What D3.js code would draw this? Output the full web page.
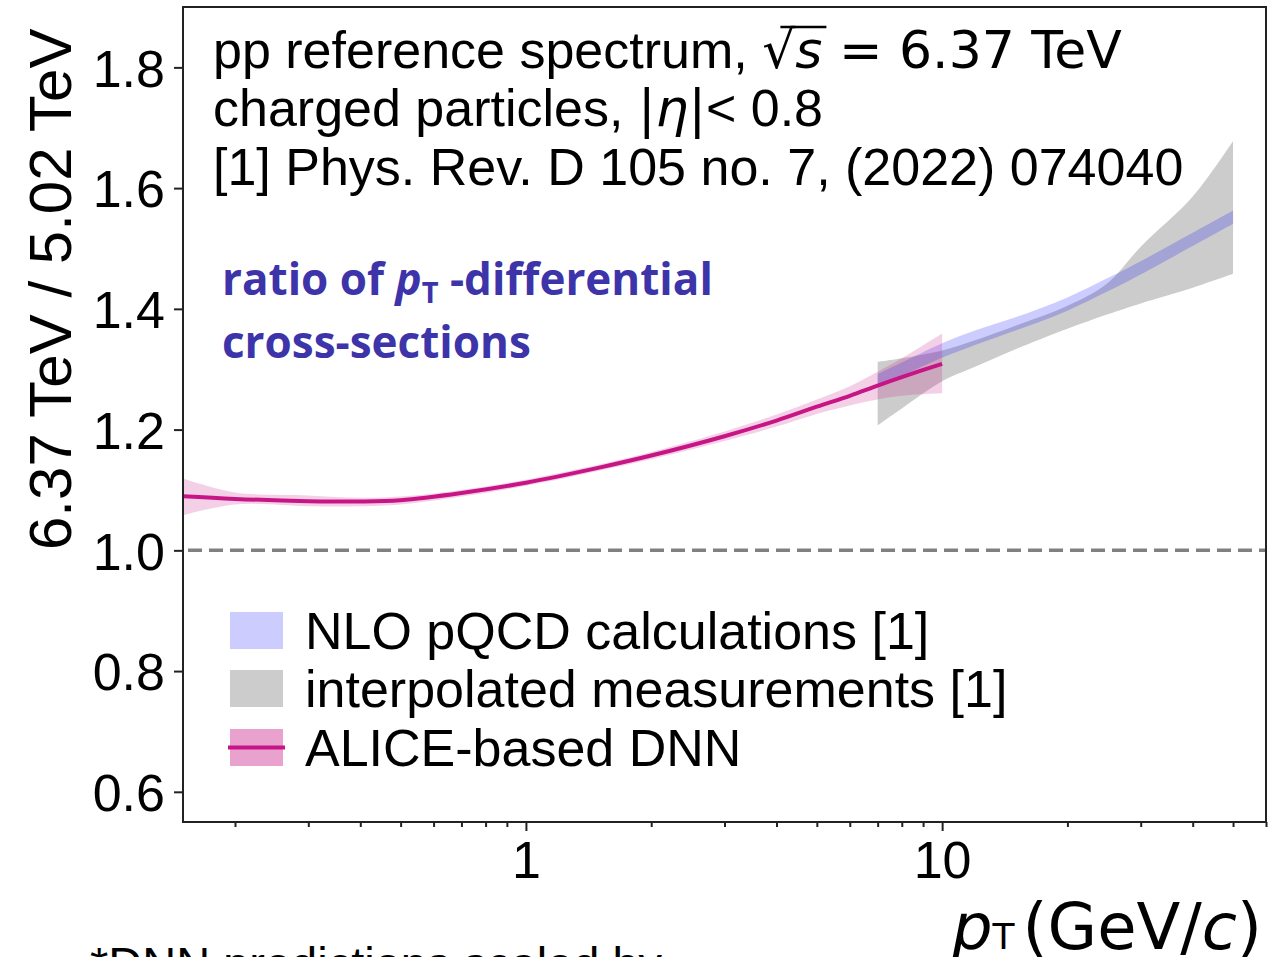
<!DOCTYPE html>
<html>
<head>
<meta charset="utf-8">
<script src="https://cdn.jsdelivr.net/npm/d3@7"></script>
<style>
  html, body { margin: 0; padding: 0; background: #fff; }
  svg { display: block; }
</style>
</head>
<body>
<svg id="chart" width="1281" height="957"></svg>
<script>
// ALICE-based DNN ratio (6.37 TeV / 5.02 TeV) with its uncertainty band
const dnnPt    = [0.15, 0.2, 0.3, 0.4, 0.5, 0.7, 1.0, 1.5, 2, 3, 4, 5, 6, 7, 8, 10];
const dnnRatio = [1.0895, 1.0852, 1.0815, 1.0808, 1.083, 1.095, 1.112, 1.137, 1.157, 1.189, 1.215, 1.238, 1.256, 1.273, 1.287, 1.309];
const dnnLow   = [1.058, 1.076, 1.073, 1.073, 1.076, 1.089, 1.107, 1.132, 1.151, 1.181, 1.205, 1.226, 1.240, 1.250, 1.256, 1.260];
const dnnHigh  = [1.119, 1.096, 1.091, 1.087, 1.089, 1.100, 1.117, 1.142, 1.163, 1.197, 1.225, 1.250, 1.272, 1.296, 1.318, 1.359];

// NLO pQCD calculations [1]
const nloPt   = [7, 8, 10, 12, 15, 20, 25, 30, 40, 50];
const nloLow  = [1.270, 1.289, 1.319, 1.340, 1.364, 1.397, 1.429, 1.457, 1.504, 1.541];
const nloHigh = [1.292, 1.311, 1.343, 1.364, 1.386, 1.419, 1.451, 1.479, 1.526, 1.563];

// interpolated measurements [1]
const measPt   = [7, 8, 10, 12, 15, 20, 25, 30, 40, 50];
const measLow  = [1.207, 1.235, 1.280, 1.304, 1.333, 1.367, 1.391, 1.409, 1.435, 1.458];
const measHigh = [1.312, 1.318, 1.331, 1.348, 1.372, 1.405, 1.443, 1.503, 1.586, 1.678];

// axes
const yTicks = [0.6, 0.8, 1.0, 1.2, 1.4, 1.6, 1.8];
const xMajorTicks = [1, 10];
const xMinorTicks = [0.2, 0.3, 0.4, 0.5, 0.6, 0.7, 0.8, 0.9, 2, 3, 4, 5, 6, 7, 8, 9, 20, 30, 40, 50, 60];

const legendLabels = ["NLO pQCD calculations [1]", "interpolated measurements [1]", "ALICE-based DNN"];

const svg = d3.select("#chart");
const pLeft = 183, pRight = 1266, pTop = 7, pBottom = 822;

const x = d3.scaleLog().domain([0.15, 60]).range([pLeft, pRight]);
const y = d3.scaleLinear().domain([0.55, 1.9]).range([pBottom, pTop]);

const SANS = "'Liberation Sans', Arial, sans-serif";
const MATH = "'DejaVu Sans', sans-serif";
const smooth = d3.curveCatmullRom.alpha(0.5);

svg.append("defs").append("clipPath").attr("id", "plot-clip")
  .append("rect").attr("x", pLeft).attr("y", pTop).attr("width", pRight - pLeft).attr("height", pBottom - pTop);

const plot = svg.append("g").attr("clip-path", "url(#plot-clip)");

// reference line at unity
plot.append("line")
  .attr("x1", pLeft).attr("x2", pRight)
  .attr("y1", y(1)).attr("y2", y(1))
  .attr("stroke", "#808080").attr("stroke-width", 3.5)
  .attr("stroke-dasharray", "14,7").attr("stroke-dashoffset", -5);

const band = (pts, lo, hi) => d3.area()
  .x((d, i) => x(pts[i]))
  .y0((d, i) => y(lo[i]))
  .y1((d, i) => y(hi[i]))
  .curve(smooth)(pts);

plot.append("path").attr("d", band(measPt, measLow, measHigh))
  .attr("fill", "black").attr("fill-opacity", 0.2);
plot.append("path").attr("d", band(nloPt, nloLow, nloHigh))
  .attr("fill", "blue").attr("fill-opacity", 0.2);
plot.append("path").attr("d", band(dnnPt, dnnLow, dnnHigh))
  .attr("fill", "mediumvioletred").attr("fill-opacity", 0.2);

const line = d3.line()
  .x((d, i) => x(dnnPt[i]))
  .y((d, i) => y(dnnRatio[i]))
  .curve(smooth);
plot.append("path").attr("d", line(dnnPt))
  .attr("fill", "none").attr("stroke", "mediumvioletred").attr("stroke-width", 4);

// y axis
const yAxis = svg.append("g").attr("transform", `translate(${pLeft},0)`)
  .call(d3.axisLeft(y).tickValues(yTicks).tickFormat(d3.format(".1f")).tickSize(9).tickPadding(9));
yAxis.select(".domain").remove();
yAxis.selectAll(".tick line").attr("stroke", "#222").attr("stroke-width", 2);
yAxis.selectAll(".tick text").attr("font-family", SANS).attr("font-size", 52).attr("fill", "#000").attr("dy", "0.36em");

// x axis: minor then major
const xMinor = svg.append("g").attr("transform", `translate(0,${pBottom})`)
  .call(d3.axisBottom(x).tickValues(xMinorTicks).tickFormat("").tickSize(5));
xMinor.select(".domain").remove();
xMinor.selectAll(".tick line").attr("stroke", "#222").attr("stroke-width", 2);

const xAxis = svg.append("g").attr("transform", `translate(0,${pBottom})`)
  .call(d3.axisBottom(x).tickValues(xMajorTicks).tickFormat(d3.format("d")).tickSize(9).tickPadding(10));
xAxis.select(".domain").remove();
xAxis.selectAll(".tick line").attr("stroke", "#222").attr("stroke-width", 2);
xAxis.selectAll(".tick text").attr("font-family", SANS).attr("font-size", 52).attr("fill", "#000").attr("dy", "0.72em");

// frame
svg.append("rect").attr("x", pLeft).attr("y", pTop).attr("width", pRight - pLeft).attr("height", pBottom - pTop)
  .attr("fill", "none").attr("stroke", "#222").attr("stroke-width", 2);

// axis titles
svg.append("text")
  .attr("transform", "translate(71,550) rotate(-90)")
  .attr("font-family", SANS).attr("font-size", 60).attr("fill", "#000")
  .text("6.37 TeV / 5.02 TeV");

const xl = svg.append("text").attr("x", 1262).attr("y", 949).attr("text-anchor", "end")
  .attr("font-family", MATH).attr("font-size", 64).attr("fill", "#000");
xl.append("tspan").attr("font-style", "italic").text("p");
xl.append("tspan").attr("font-size", 36).text("T");
xl.append("tspan").attr("dx", 8).text("(GeV/");
xl.append("tspan").attr("font-style", "italic").text("c");
xl.append("tspan").text(")");

// header text
const h1 = svg.append("text").attr("x", 213).attr("y", 68).attr("font-size", 52).attr("fill", "#000");
h1.append("tspan").attr("font-family", SANS).text("pp reference spectrum, ");
h1.append("tspan").attr("font-family", MATH).text("\u221A");
h1.append("tspan").attr("font-family", MATH).attr("font-style", "italic").text("s");
h1.append("tspan").attr("font-family", MATH).text(" = 6.37 TeV");
{
  const node = h1.node();
  const n = "pp reference spectrum, ".length;
  const x0 = node.getStartPositionOfChar(n).x + node.getExtentOfChar(n).width * 0.55;
  const x1 = node.getEndPositionOfChar(n + 1).x + 4;
  svg.append("line").attr("x1", x0).attr("x2", x1).attr("y1", 27).attr("y2", 27)
    .attr("stroke", "#000").attr("stroke-width", 2.5);
}

const h2 = svg.append("text").attr("x", 213).attr("y", 126).attr("font-size", 52).attr("fill", "#000");
h2.append("tspan").attr("font-family", SANS).text("charged particles, ");
h2.append("tspan").attr("font-family", MATH).text("|");
h2.append("tspan").attr("font-family", MATH).attr("font-style", "italic").text("\u03B7");
h2.append("tspan").attr("font-family", MATH).text("|");
h2.append("tspan").attr("font-family", SANS).text("< 0.8");

svg.append("text").attr("x", 213).attr("y", 185).attr("font-size", 52).attr("fill", "#000")
  .attr("font-family", SANS).text("[1] Phys. Rev. D 105 no. 7, (2022) 074040");

// blue annotation
const BLUE = "#3d34a9";
const b1 = svg.append("text").attr("x", 222).attr("y", 295).attr("font-family", "'Open Sans', sans-serif")
  .attr("font-weight", 700).attr("font-size", 44).attr("fill", BLUE);
b1.append("tspan").text("ratio of ");
b1.append("tspan").attr("font-style", "italic").text("p");
b1.append("tspan").attr("font-size", 29).attr("dy", 8).text("T");
b1.append("tspan").attr("dy", -8).text(" -differential");
svg.append("text").attr("x", 222).attr("y", 358).attr("font-family", "'Open Sans', sans-serif")
  .attr("font-weight", 700).attr("font-size", 44).attr("fill", BLUE).text("cross-sections");

// legend
const legendFill = [["blue", 0.2], ["black", 0.2], ["mediumvioletred", 0.4]];
const legendY = [630.5, 688.5, 747.5];
const lg = svg.append("g");
legendLabels.forEach((lab, i) => {
  lg.append("rect").attr("x", 230).attr("y", legendY[i] - 18.5).attr("width", 53).attr("height", 37)
    .attr("fill", legendFill[i][0]).attr("fill-opacity", legendFill[i][1]);
  if (i === 2) {
    lg.append("line").attr("x1", 228).attr("x2", 285).attr("y1", legendY[i]).attr("y2", legendY[i])
      .attr("stroke", "mediumvioletred").attr("stroke-width", 4);
  }
  lg.append("text").attr("x", 305).attr("y", legendY[i]).attr("dy", "0.36em")
    .attr("font-family", SANS).attr("font-size", 52).attr("fill", "#000").text(lab);
});

// footnote, partly below the visible area
svg.append("text").attr("x", 90).attr("y", 980).attr("font-family", SANS).attr("font-size", 47)
  .attr("fill", "#000").text("*DNN predictions scaled by");
</script>
</body>
</html>
